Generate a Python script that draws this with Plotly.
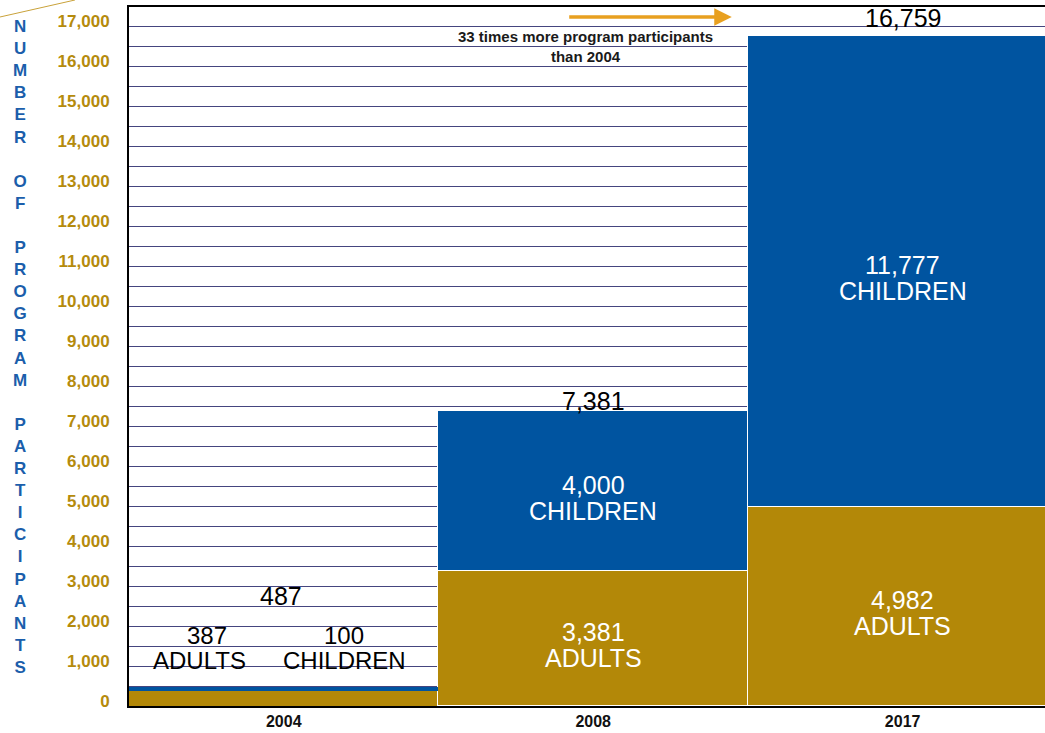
import plotly.graph_objects as go

years = ["2004", "2008", "2017"]
adults = [387, 3381, 4982]
children = [100, 4000, 11777]
totals = [487, 7381, 16759]
y_ticks = list(range(0, 18000, 1000))
y_tick_text = [f"{v:,}" for v in y_ticks]

GOLD = "#B38808"
BLUE = "#0054A0"
TICK_GOLD = "#B58B0C"
TITLE_BLUE = "#1B5EAB"
FONT = "Liberation Sans, Arial, Helvetica, sans-serif"

fig = go.Figure()
fig.add_trace(go.Bar(x=years, y=adults, marker=dict(color=GOLD, line=dict(color="white", width=[0, 1.5, 1.5])),
                     width=1, hoverinfo="skip", name="Adults"))
fig.add_trace(go.Bar(x=years, y=children, marker=dict(color=BLUE, line=dict(color="white", width=[0, 1.5, 1.5])),
                     width=1, hoverinfo="skip", name="Children"))

annotations = []
big = dict(family=FONT, size=25)


def label(x, y, text, color, yshift=0, size=25):
    annotations.append(dict(x=x, y=y, xref="x", yref="y", text=text, showarrow=False,
                            yanchor="middle", yshift=yshift, font=dict(big, color=color, size=size)))


# total labels above bars
total_shift = [None, 10, 18]
for i in (1, 2):
    label(i, totals[i], f"{totals[i]:,}", "black", total_shift[i])
# 2004 labels
label(-0.01, 2750, f"{totals[0]:,}", "black")
label(-0.249, 1775, f"{adults[0]:,}", "black", size=24)
label(-0.271, 1150, "ADULTS", "black", size=24)
label(0.196, 1775, f"{children[0]:,}", "black", size=24)
label(0.196, 1150, "CHILDREN", "black", size=24)
# inside labels
for i in (1, 2):
    label(i, adults[i] / 2, f"{adults[i]:,}", "white", 6)
    label(i, adults[i] / 2, "ADULTS", "white", -20)
    label(i, adults[i] + children[i] / 2, f"{children[i]:,}", "white", 6)
    label(i, adults[i] + children[i] / 2, "CHILDREN", "white", -20)

# arrow + note
annotations.append(dict(x=0.658, y=0.9857, xref="paper", yref="paper", ax=-164, ay=0, text="",
                        showarrow=True, arrowhead=2, arrowsize=1, arrowwidth=3.5, arrowcolor="#E8A020"))
annotations.append(dict(x=0.498, y=0.944, xref="paper", yref="paper",
                        text="33 times more program participants<br>than 2004", showarrow=False,
                        font=dict(family=FONT, size=15, color="#1a1a1a", weight="bold"), yanchor="middle"))
# vertical title
words = ["NUMBER", "OF", "PROGRAM", "PARTICIPANTS"]
title_txt = "<br> <br>".join("<br>".join(list(w)) for w in words)
annotations.append(dict(x=-0.119, y=0.514, xref="paper", yref="paper", text=title_txt, showarrow=False,
                        font=dict(family=FONT, size=17, color=TITLE_BLUE, weight="bold"), yanchor="middle",
                        xanchor="center"))

fig.update_layout(
    width=1045, height=733,
    margin=dict(l=129, r=0, t=7, b=27),
    barmode="stack", bargap=0,
    plot_bgcolor="white", paper_bgcolor="white",
    showlegend=False,
    annotations=annotations,
    shapes=[dict(type="line", xref="paper", yref="paper", x0=-0.1408, y0=0.9857, x1=-0.059, y1=1.01,
                 line=dict(color="#C9A23A", width=1))],
    font=dict(family=FONT),
)
fig.update_xaxes(type="category", range=[-0.5, 2.46], showline=True, linecolor="black", linewidth=2, mirror=True,
                 showgrid=False, ticks="",
                 tickfont=dict(family=FONT, size=16, color="#111111", weight="bold"))
fig.update_yaxes(range=[0, 17475], tickvals=y_ticks, ticktext=y_tick_text, showline=True, linecolor="black",
                 linewidth=2, showgrid=True, gridcolor="#45457F", gridwidth=1, zeroline=False,
                 ticklabelshift=-5, ticklabelstandoff=14,
                 tickfont=dict(family=FONT, size=17, color=TICK_GOLD, weight="bold"),
                 minor=dict(dtick=500, showgrid=True, gridcolor="#45457F", gridwidth=1))

fig.write_html("out.html", config={"displayModeBar": False},
               post_script="document.body.style.margin='0';document.body.style.overflow='hidden';")
